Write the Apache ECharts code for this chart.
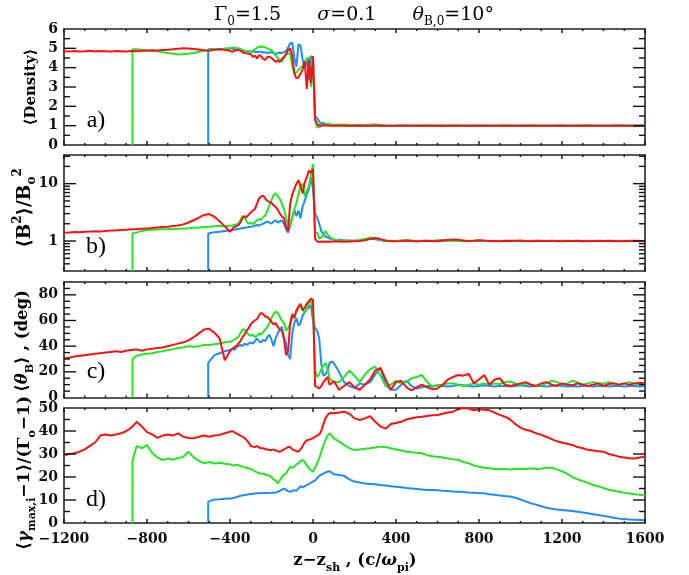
<!DOCTYPE html>
<html><head><meta charset="utf-8">
<script src="https://cdn.jsdelivr.net/npm/echarts@6/dist/echarts.min.js"></script>
<style>html,body{margin:0;padding:0;background:#fff}#c{width:689px;height:575px}</style>
</head><body><div id="c"></div>
<script>
const xs = [-1200,-1175,-1150,-1125,-1100,-1075,-1050,-1025,-1000,-975,-950,-925,-900,-875,-850,-825,-800,-775,-750,-725,-700,-675,-650,-625,-600,-575,-550,-525,-500,-475,-450,-425,-400,
-390,-380,-370,-360,-350,-340,-330,-320,-310,-300,-290,-280,-270,-260,-250,-240,-230,-220,-210,-200,-190,-180,-170,-160,-150,-140,-130,-120,-110,-100,-90,-80,-70,-60,-50,-40,-30,-20,-10,0,10,20,30,40,50,60,70,80,90,100,
125,150,175,200,225,250,275,300,325,350,375,400,425,450,475,500,525,550,575,600,625,650,675,700,725,750,775,800,825,850,875,900,925,950,975,1000,1025,1050,1075,1100,1125,1150,1175,1200,1225,1250,1275,1300,1325,1350,1375,1400,1425,1450,1475,1500,1525,1550,1575,1600];
const N = null;
const greenStart = -870, blueStart = -505;
const greenTop = [4.95, 1.35, 30, 27];
const blueTop = [4.95, 1.35, 27, 9.3];

// Panel a: density
const densRed = [4.85,4.83,4.86,4.84,4.85,4.87,4.84,4.86,4.85,4.83,4.86,4.85,4.84,4.86,4.85,4.87,4.88,4.9,4.89,4.92,4.93,4.95,4.98,5.0,4.99,4.97,4.94,4.9,4.88,4.92,4.95,4.93,4.87,
4.82,4.86,4.9,4.92,4.88,4.8,4.76,4.74,4.72,4.7, 4.55,4.62,4.48,4.65,4.6,4.45,4.4,4.55,4.57,4.5, 4.4,4.3,4.38,4.3,4.45,4.55,4.7,4.9,5.0,4.6, 3.7,3.44,3.5,3.7,3.9,4.35,2.9,4.4,3.2,4.6, 1.3,1.08,1.02,1.0,1.03,1.0,1.02,1.0,1.01,1.0,
1.01,1.0,0.99,1.0,1.01,0.99,1.0,1.0,1.01,0.99, 1.0,0.99,1.01,1.0,1.0,0.99,1.0,1.01,1.0,0.99, 1.0,1.0,1.01,0.99,1.0,1.0,0.99,1.01,1.0,1.0, 0.99,1.0,1.01,1.0,0.99,1.0,1.0,1.01,1.0,0.99, 1.0,1.0,0.99,1.01,1.0,1.0,0.99,1.0,1.01,1.0, 1.0,0.99,1.0,1.0,1.01,0.99,1.0,1.0,0.99,1.0];
const densGreen = [N,N,N,N,N,N,N,N,N,N,N,N,N,N,4.95,4.93,4.9,4.88,4.85,4.8,4.76,4.72,4.68,4.7,4.72,4.76,4.82,4.88,4.92,4.95,4.97,4.98,5.0,
5.03,5.05,5.02,5.0,4.97,4.92,4.88,4.85,4.83,4.82, 4.88,4.95,5.02,5.08,5.1,5.08,5.04,5.0,4.95,4.9, 4.8,4.65,4.5,4.4,4.3,4.5,4.65,4.75,4.7,4.1, 3.7,3.75,3.87,4.0,4.1,4.2,4.4,4.55,3.0,4.3, 1.3,0.93,0.92,0.98,1.05,1.08,1.1,1.08,1.06,1.05,
1.05,1.06,1.04,1.02,1.0,1.03,1.05,1.07,1.04,1.0, 0.98,0.99,1.01,1.0,0.99,1.02,1.0,0.98,1.0,1.01, 1.0,0.99,1.0,1.01,1.0,0.98,1.0,1.0,1.01,0.99, 1.0,1.0,0.99,1.01,1.0,1.0,0.99,1.0,1.01,1.0, 0.99,1.0,1.0,1.01,0.99,1.0,1.0,0.99,1.01,1.0, 1.0,0.99,1.0,1.01,1.0,0.99,1.0,1.0,1.01,1.0];
const densBlue = [N,N,N,N,N,N,N,N,N,N,N,N,N,N,N,N,N,N,N,N,N,N,N,N,N,N,N,N,4.95,4.96,4.95,4.98,5.0,
4.98,4.95,4.92,4.9,4.9,4.88,4.86,4.85,4.84,4.85, 4.83,4.82,4.8,4.82,4.82,4.78,4.8,4.75,4.78,4.8, 4.75,4.7,4.75,4.78,4.75,4.8,4.85,5.05,5.25,5.3, 4.5,4.05,5.2,5.15,4.4,4.0,4.5,3.35,4.6,4.5, 1.5,1.4,1.2,1.1,1.15,1.08,1.06,1.05,1.04,1.03,
1.03,1.02,1.0,1.01,1.02,1.0,0.99,1.01,1.02,1.0, 1.0,0.99,1.0,1.01,1.0,0.99,1.01,1.0,1.0,0.99, 1.01,1.0,1.0,0.99,1.0,1.01,1.0,1.0,0.99,1.0, 1.0,1.01,0.99,1.0,1.0,1.0,1.01,0.99,1.0,1.0, 0.99,1.0,1.01,1.0,1.0,0.99,1.0,1.01,1.0,1.0, 1.0,0.99,1.0,1.01,1.0,1.0,0.99,1.0,1.0,1.01];

// Panel b: <B^2>/B0^2
const bRed = [1.40,1.41,1.43,1.42,1.45,1.46,1.48,1.47,1.5,1.52,1.53,1.55,1.57,1.6,1.6,1.63,1.66,1.68,1.72,1.75,1.78,1.83,1.87,1.95,2.1,2.3,2.55,2.85,2.95,2.65,2.2,1.8,1.45,
1.6,1.75,1.8,1.9,2.1,2.5,2.7,2.6,2.9,3.1, 3.4,3.6,4.5,5.5,6.0,6.2,5.5,5.0,4.8,4.6, 4.2,3.9,3.5,3.0,2.7,2.5,1.8,1.5,4.5,6.5, 8.0,10.0,11.5,9.0,6.8,10.5,13.0,17.0,15.5,18.0, 1.1,0.98,0.97,0.98,0.97,0.98,0.97,0.98,0.97,0.98,
0.98,0.97,0.98,0.99,1.0,1.03,1.08,1.13,1.08,1.02, 1.0,0.99,1.0,1.02,1.0,0.99,1.0,1.01,1.0,0.99, 1.02,1.04,1.06,1.05,1.02,1.0,1.01,1.03,1.02,1.0, 1.0,0.99,1.01,1.0,1.01,1.02,1.0,0.99,1.0,1.01, 1.0,1.01,1.0,0.99,1.0,1.0,1.01,1.0,0.99,1.0, 1.0,1.0,1.01,1.0,0.99,1.0,1.0,1.01,1.0,1.0];
const bGreen = [N,N,N,N,N,N,N,N,N,N,N,N,N,N,1.4,1.5,1.55,1.57,1.58,1.6,1.6,1.62,1.63,1.65,1.67,1.7,1.72,1.75,1.78,1.8,1.85,1.82,1.85,
1.85,1.9,1.95,2.0,2.3,2.7,2.6,2.2,2.0,2.1, 1.95,2.1,2.3,2.4,2.35,2.6,2.8,3.4,4.2,5.2, 6.3,6.8,6.0,5.5,4.5,3.6,2.6,1.9,1.75,2.7, 3.5,4.6,6.5,9.0,10.0,6.0,7.5,9.0,14.0,22.0, 1.35,1.4,1.1,1.15,1.25,1.5,1.3,1.2,1.1,1.05,
1.03,1.02,1.0,1.02,1.04,1.08,1.15,1.12,1.05,1.0, 0.99,1.0,1.02,1.04,1.02,1.0,0.99,1.0,1.01,1.03, 1.04,1.03,1.01,1.0,0.99,1.0,1.01,1.02,1.0,0.99, 1.0,1.0,0.99,1.01,1.0,1.0,0.99,1.0,1.01,1.0, 0.99,1.0,1.0,1.01,0.99,1.0,1.0,0.99,1.01,1.0, 1.0,0.99,1.0,1.01,1.0,0.99,1.0,1.0,1.01,1.0];
const bBlue = [N,N,N,N,N,N,N,N,N,N,N,N,N,N,N,N,N,N,N,N,N,N,N,N,N,N,N,N,1.38,1.42,1.45,1.5,1.52,
1.55,1.57,1.6,1.62,1.65,1.68,1.7,1.72,1.75,1.78, 1.8,1.85,1.9,1.85,1.95,2.0,2.1,2.2,2.1,2.0, 2.2,2.3,2.1,2.2,2.3,2.0,1.6,1.4,1.9,2.5, 3.5,2.7,3.4,2.5,4.0,5.0,6.5,8.0,13.0,8.0, 3.0,2.6,2.0,1.5,1.3,1.2,1.15,1.1,1.08,1.06,
1.05,1.03,1.02,1.0,1.01,1.05,1.1,1.07,1.03,1.0, 1.0,0.99,1.01,1.0,1.0,0.99,1.0,1.01,1.0,1.0, 1.01,1.02,1.03,1.02,1.0,0.99,1.0,1.01,1.0,1.0, 0.99,1.0,1.0,1.01,1.0,0.99,1.0,1.0,1.01,1.0, 1.0,1.0,0.99,1.0,1.01,1.0,1.0,0.99,1.0,1.0, 1.01,1.0,1.0,0.99,1.0,1.0,1.01,1.0,0.99,1.0];

// Panel c: <theta_B> (deg)
const cRed = [30.5,31,32,32.5,33,33.5,34,34.5,35,35.5, 36,35.5,36.5,37,37.5,36.5,37.5,38,38.5,39, 40,41,42,43,44.5,47,50,53,53.5,50.5, 46,29,36,
38,39,40,42,44,47,49,52,54,57, 59,60,61,64,66,65,63,63,61,59, 57,58,55,53,52,46,33,36,58,65, 62,68,71,73,68,70,73,75,77,76, 9,8,7,9,12,14,16,10,11,13,
6,9,12,8,6,10,14,21,23,14, 6,12,13,8,5.5,8,10,8,6.5,7, 10,14,16,17.5,17,18.5,11,14,17.5,10, 14,15,10,9,10,11,12,10,9,11, 12,10,9,11,10,9.5,11,10,9,10, 11,9,10.5,11,10,11,10,11,11.5,11];
const cGreen = [N,N,N,N,N,N,N,N,N,N,N,N,N,N,32.5,33.5,34,34.5,35.5,36,37,37.5,38.5,39,40,39.5,40,41,41,41.5,42,43,43.5,
44,45,46,47,50,53,53,51,49,48, 49,47,48,50,49,51,53,55,58,62, 65,67,66,63,60,58,52,54,57,62, 63,67,70,71,68,66,70,73,76,70, 21,16,18,22,25,27,22,15,13,12,
12,16,21,17,12,18,22,24,17,9, 10,13,11,12,15,16,17.5,12,8.5,9.5, 10,11,11,10,9,10,11,10,11,10, 11,10.5,12,12.5,11,10,11,10,9,10, 11,13,12,10,11,13,12,10,11,12, 11,11,12,11,10,11,12,11,10,11];
const cBlue = [N,N,N,N,N,N,N,N,N,N,N,N,N,N,N,N,N,N,N,N,N,N,N,N,N,N,N,N,27,33,34.5,36,37,
38,37,39,40,41,40,42,41,42,43, 42,44,46,44,43,45,44,47,49,45, 40,46,50,53,55,47,42,33,30,50, 58,62,56,58,64,66,69,70,72,60, 54,52,46,26,17,18,21,27,28,27,
20,12,9,7.5,11,10,12,18,23,10, 6,6,10,13,9,7,8,9,8.5,9.5, 9,8.5,9,10,9.5,9,8.5,9,9.5,9, 8.5,9,9,8.5,9,9.5,9,8.5,9,9, 8.5,9,9.5,9,8.5,9,8.5,9,9,8.5, 9,9,8.5,9,9,8.5,9,9,8.5,9];

// Panel d: <gamma_max,i - 1>/(Gamma0 - 1)
const dRed = [29.5,30,30.3,31,32,33.5,35,38,38.5,38, 38.5,39,40,41.5,44,42,39.5,38.5,37,38, 38.5,38,39,37.5,37,36.8,37.5,38,37.5,38, 38.3,39,39.7,
40,39.5,39,38.5,38,37.5,37,36,35,33.5, 33.2,33,33.5,32.8,32.5,32.5,32.2,32,31.7,31.7, 32,31.5,31.2,31,31.5,32,32.5,33,33,32, 31.7,31.2,31,32,33.5,35,36,36.2,36.5,36.8, 37.5,38,38.5,40,43,45.5,47,47.7,47.8,47.7,
48,48.4,47.5,45.5,44.8,45.5,46.4,44,42,41, 43,43.5,44,45,45.5,46,46.2,46.5,46.8,47, 47.5,48,48.4,49.5,50,49.8,49,49.5,49.2,49, 48,47,46.2,45,43,41.5,40.5,40,39,38.3, 37.5,36.5,35.5,35,34.5,33.9,33,32.5,31.8,31.5, 31.2,31,30,29.5,28.8,28.5,28.2,28,28.5,28.8];
const dGreen = [N,N,N,N,N,N,N,N,N,N,N,N,N,N,33.5,32.5,33.9,30.5,28.5,27.4,28,27.5,28.2,28.8,31,28.5,27,26,26.5,25.9,26.2,25.8,25.5,
25.2,25,25.3,25.2,24.8,24.5,24.3,24,23.8,23.5, 23,22.5,22,21.6,21.5,21.4,21,20.9,20.5,20, 19,18.5,17.2,18.5,20,21,21.5,23,24.5,24, 24.5,25.5,26,27,27.4,26.5,25,24,23,22.3, 24,26,28.1,31,33.9,36,38,39,38,36.8,
35.5,34,32.5,31.7,32,32.3,32.5,32.8,33.2,33, 32.5,32,31.5,31,30.8,30.5,30.3,29.5,29,28.8, 28.5,28,27.7,27.5,26.5,26,25,24.5,24,23.8, 23.5,23.5,23.5,23.3,23.5,23.6,23.5,23.8,23.5,23.6, 24,24,23.3,22.5,21.5,20,19,18.2,17.5,16.5, 16,15.2,14.5,14,13.6,13.2,12.8,12.5,12.3,12];
const dBlue = [N,N,N,N,N,N,N,N,N,N,N,N,N,N,N,N,N,N,N,N,N,N,N,N,N,N,N,N,10,10.2,10.3,10.5,10.7,
10.7,11,11.2,11.5,11.8,12,12.2,12.3,12.5,12.6, 12.7,12.8,12.9,12.9,12.9,13,13,13,13.1,13.1, 13.2,13.3,13.5,14,14.5,15,14.5,13.8,13.6,14, 14.2,14,15,16,15.5,16,16.5,17,17.5,18, 18.5,19.5,20.5,21,21.5,22,22.3,22.5,22,21.2,
20.9,20.5,19,18,17.6,17.2,17,16.8,16.5,16.3, 16,15.8,15.5,15.2,15,14.8,14.6,14.4,14.3,14.2, 14,13.9,13.7,13.6,13.5,13.3,13.2,13,12.9,12.5, 12.3,12,11.7,11.5,11,10.2,9.4,8.6,8,7.3, 6.6,6.2,5.9,5.7,5.4,5.2,4.9,4.6,4.2,3.8, 3.5,3.1,2.7,2.3,1.9,1.7,1.5,1.4,1.3,1.3];

const xTicks = [-1200, 1600, 400];          // min, max, interval
const xMajorTicks = [-1200,-800,-400,0,400,800,1200,1600];
const xMinorTicks = [-1100,-1000,-900,-700,-600,-500,-300,-200,-100,100,200,300,500,600,700,900,1000,1100,1300,1400,1500];
const yMin = [0, 0.3, 0, 0];
const yMax = [6, 31.6, 90, 50];
const yInterval = [1, null, 20, 10];
const logMajor = [1, 10];
const yMajorTicks = [[1,2,3,4,5], [1,10], [20,40,60,80], [10,20,30,40]];
const yMinorTicks = [[0.5,1.5,2.5,3.5,4.5,5.5],
  [0.4,0.5,0.6,0.7,0.8,0.9,2,3,4,5,6,7,8,9,20,30],
  [5,10,15,25,30,35,45,50,55,65,70,75,85],
  [5,15,25,35,45]];

const COLORS = { blue: '#1e8cff', green: '#22e622', red: '#ff1010' };
const panels = [
  { top: 29, h: 116, blue: densBlue, green: densGreen, red: densRed },
  { top: 155, h: 116, blue: bBlue, green: bGreen, red: bRed },
  { top: 282, h: 115.5, blue: cBlue, green: cGreen, red: cRed },
  { top: 408, h: 115, blue: dBlue, green: dGreen, red: dRed }
];
[densRed,densGreen,densBlue,bRed,bGreen,bBlue,cRed,cGreen,cBlue,dRed,dGreen,dBlue].forEach((a,i)=>{
  if (a.length !== xs.length) throw new Error('array ' + i + ' length ' + a.length + ' vs ' + xs.length);
});

function build(vals, start, startTop, bottom) {
  const out = [];
  if (start !== null) { out.push([start, bottom]); out.push([start, startTop]); }
  for (let i = 0; i < xs.length; i++) {
    if (vals[i] === null) continue;
    if (start !== null && xs[i] <= start) continue;
    out.push([xs[i], vals[i]]);
  }
  return out;
}

const LEFT = 64, WIDTH = 581;
const FONT = 'DejaVu Serif';
const tickCol = '#111';
const grid = [], xAxis = [], yAxis = [], series = [];

panels.forEach((p, i) => {
  grid.push({ left: LEFT, top: p.top, width: WIDTH, height: p.h });
  const xBase = {
    gridIndex: i, type: 'value', min: xTicks[0], max: xTicks[1], interval: xTicks[2],
    axisLine: { show: true, onZero: false, lineStyle: { color: '#222', width: 1.6 } },
    axisTick: { show: false }, minorTick: { show: false },
    splitLine: { show: false }, minorSplitLine: { show: false }
  };
  xAxis.push(Object.assign({}, xBase, {
    position: 'bottom',
    axisLabel: { show: i === 3, margin: 9, fontFamily: FONT, fontWeight: 'bold', fontSize: 14, color: '#111',
      formatter: v => String(v).replace('-', '\u2212') }
  }));
  xAxis.push(Object.assign({}, xBase, { position: 'top', axisLabel: { show: false } }));
  const isLog = i === 1;
  const yBase = {
    gridIndex: i, type: isLog ? 'log' : 'value', min: yMin[i], max: yMax[i],
    axisLine: { show: true, onZero: false, lineStyle: { color: '#222', width: 1.6 } },
    axisTick: { show: false },
    splitLine: { show: false }, minorSplitLine: { show: false }
  };
  if (isLog) yBase.logBase = 10; else yBase.interval = yInterval[i];
  const lab = { show: true, margin: 6, fontFamily: FONT, fontWeight: 'bold', fontSize: 14, color: '#111' };
  if (isLog) lab.customValues = logMajor;
  yAxis.push(Object.assign({}, yBase, { position: 'left', axisLabel: lab }));
  yAxis.push(Object.assign({}, yBase, { position: 'right', axisLabel: { show: false } }));
  const bottom = yMin[i];
  series.push({ type: 'line', xAxisIndex: 2 * i, yAxisIndex: 2 * i, data: build(p.blue, blueStart, blueTop[i], bottom),
    showSymbol: false, symbol: 'none', lineStyle: { color: COLORS.blue, width: 2 }, itemStyle: { color: COLORS.blue }, animation: false, silent: true });
  series.push({ type: 'line', xAxisIndex: 2 * i, yAxisIndex: 2 * i, data: build(p.green, greenStart, greenTop[i], bottom),
    showSymbol: false, symbol: 'none', lineStyle: { color: COLORS.green, width: 2 }, itemStyle: { color: COLORS.green }, animation: false, silent: true });
  series.push({ type: 'line', xAxisIndex: 2 * i, yAxisIndex: 2 * i, data: build(p.red, null, null, bottom),
    showSymbol: false, symbol: 'none', lineStyle: { color: COLORS.red, width: 2 }, itemStyle: { color: COLORS.red }, animation: false, silent: true });
});

function rich(fs, sub) {
  return {
    n: { fontFamily: FONT, fontWeight: 'bold', fontSize: fs, color: '#111', lineHeight: fs + 8 },
    i: { fontFamily: FONT, fontWeight: 'bold', fontStyle: 'italic', fontSize: fs, color: '#111', lineHeight: fs + 8 },
    s: { fontFamily: FONT, fontWeight: 'bold', fontSize: sub, color: '#111', verticalAlign: 'bottom', lineHeight: sub + 2 },
    u: { fontFamily: FONT, fontWeight: 'bold', fontSize: sub, color: '#111', verticalAlign: 'top', lineHeight: sub + 2 }
  };
}
const titleRich = {
  n: { fontFamily: FONT, fontSize: 19, color: '#111', lineHeight: 25 },
  i: { fontFamily: FONT, fontStyle: 'italic', fontSize: 19, color: '#111', lineHeight: 25 },
  s: { fontFamily: FONT, fontSize: 12, color: '#111', verticalAlign: 'bottom', lineHeight: 14 }
};
function txt(x, y, text, r, rot) {
  return { type: 'text', x: x, y: y, rotation: rot || 0, silent: true,
    style: { text: text, rich: r, align: 'center', verticalAlign: 'middle' } };
}
const panelLab = { p: { fontFamily: 'Liberation Serif', fontSize: 24, color: '#111' } };
const graphic = [
  txt(354, 15, '{n|Γ}{s|0}{n|=1.5      }{i|σ}{n|=0.1      }{i|θ}{s|B,0}{n|=10°}', titleRich),
  txt(31, 87, '{n|⟨Density⟩}', rich(15, 10), Math.PI / 2),
  txt(25, 208, '{n|⟨B}{u|2}{n|⟩/B}{s|o}{u|2}', rich(18.5, 12), Math.PI / 2),
  txt(23, 341, '{n|⟨}{i|θ}{s|B}{n|⟩ , (deg)}', rich(16.5, 11), Math.PI / 2),
  txt(25, 473, '{n|⟨}{i|γ}{s|max,i}{n|−1⟩/(Γ}{s|o}{n|−1)}', rich(17, 11), Math.PI / 2),
  txt(355, 561, '{n|z−z}{s|sh}{n| , (c/}{i|ω}{s|pi}{n|)}', rich(16.5, 11)),
  txt(96, 121, '{p|a)}', panelLab),
  txt(96, 247, '{p|b)}', panelLab),
  txt(96, 372, '{p|c)}', panelLab),
  txt(96, 500, '{p|d)}', panelLab)
];

// Inward IDL-style tick marks as thin filled rectangles, positioned with the
// same linear / logarithmic mapping the axes use for each panel's rectangle.
panels.forEach((p, i) => {
  const isLog = i === 1;
  const f = v => isLog ? Math.log10(v) : v;
  const yPix = v => p.top + p.h * (1 - (f(v) - f(yMin[i])) / (f(yMax[i]) - f(yMin[i])));
  const xPix = v => LEFT + WIDTH * (v - xTicks[0]) / (xTicks[1] - xTicks[0]);
  const rect = (x, y, w, h) => graphic.push({ type: 'rect', silent: true, z: 100,
    shape: { x: x, y: y, width: w, height: h }, style: { fill: tickCol } });
  const addY = (vals, len) => vals.forEach(v => {
    const y = yPix(v) - 0.7;
    rect(LEFT, y, len, 1.4);
    rect(LEFT + WIDTH - len, y, len, 1.4);
  });
  const addX = (vals, len) => vals.forEach(v => {
    const x = xPix(v) - 0.7;
    rect(x, p.top + p.h - len, 1.4, len);
    rect(x, p.top, 1.4, len);
  });
  addY(yMajorTicks[i], 12);
  addY(yMinorTicks[i], 6);
  addX(xMajorTicks, 4);
  addX(xMinorTicks, 2);
});

const chart = echarts.init(document.getElementById('c'), null, { renderer: 'canvas' });
chart.setOption({ animation: false, backgroundColor: '#fff', grid, xAxis, yAxis, series, graphic });
</script></body></html>
